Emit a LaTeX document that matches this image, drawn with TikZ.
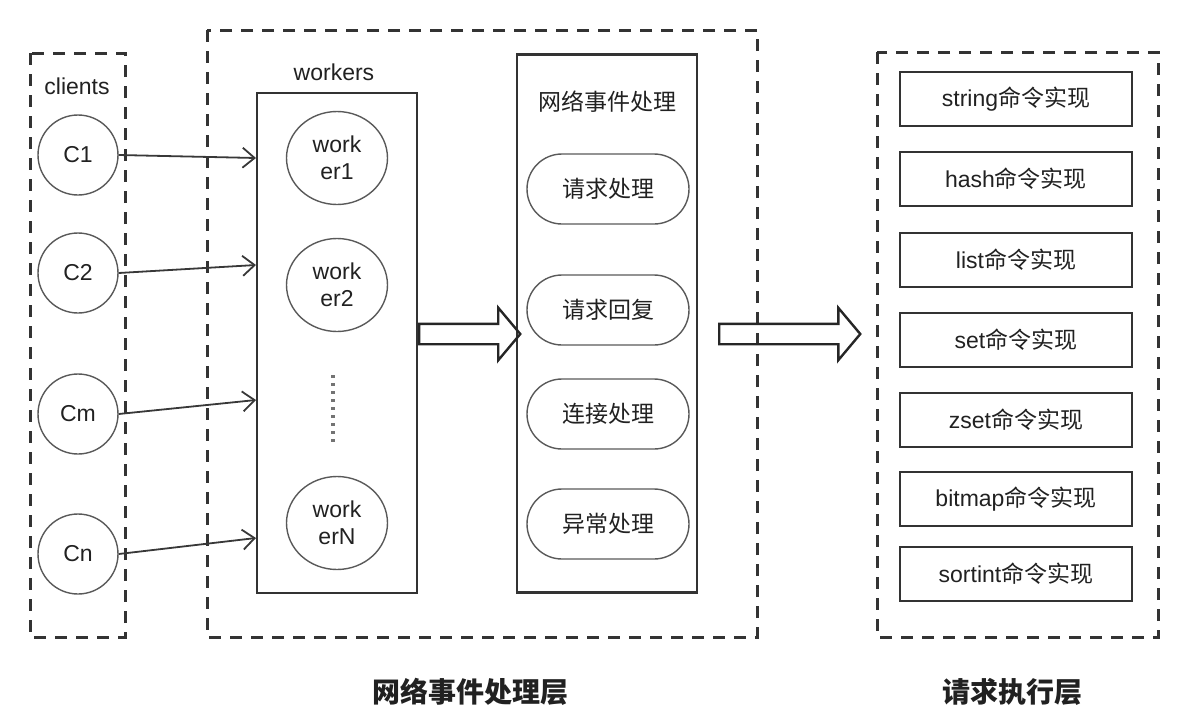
\documentclass[tikz,border=0pt]{standalone}
\usepackage{fontspec}
\setmainfont{Liberation Sans}
\newfontfamily\cjk{Noto Sans CJK SC}
\usetikzlibrary{shapes.geometric, shapes.arrows, arrows.meta}
\newcommand{\zh}[1]{{\cjk #1}}
\tikzset{
    group/.style={draw=black!80, line width=1.5pt, dash pattern=on 6pt off 4.5pt},
    panel/.style={draw=black!80, line width=1.4pt},
    client/.style={circle, draw=black!65, line width=0.7pt, minimum size=40pt,
        inner sep=0pt},
    worker/.style={ellipse, draw=black!65, line width=0.7pt, minimum width=50.5pt,
        minimum height=46.5pt, inner sep=0pt, align=center},
    handler/.style={rectangle, rounded corners=17.5pt, draw=black!65, line width=0.7pt,
        minimum width=81pt, minimum height=35pt, font=\cjk\fontsize{11.5}{13}\selectfont},
    cmd/.style={rectangle, draw=black!80, line width=1.3pt, minimum width=116pt,
        minimum height=27pt},
    link/.style={draw=black!78, line width=0.9pt, -{Straight Barb[length=6pt,width=10pt]}},
    fat/.style={single arrow, draw=black!85, line width=1.2pt, inner xsep=0pt,
        inner ysep=4.5pt, single arrow head extend=8pt, single arrow tip angle=100},
    title/.style={font=\cjk\bfseries\fontsize{14}{16}\selectfont},
}

\begin{document}
\begin{tikzpicture}[x=0.5pt, y=-0.5pt, text=black!87,
    font=\fontsize{11.5}{13.5}\selectfont]
    \useasboundingbox (0,0) rectangle (1190,718);

    % dashed layers
    \draw[group] (30,53) rectangle (125,637);
    \draw[group] (207,30) rectangle (757,637);
    \draw[group] (877,52) rectangle (1158,637);
    \node (clab) at (77,86) {clients};

    % clients
    \node[client] (c1) at (78,155) {C1};
    \node[client] (c2) at (78,273) {C2};
    \node[client] (cm) at (78,414) {Cm};
    \node[client] (cn) at (78,554) {Cn};

    % workers
    \node[panel, minimum width=80pt, minimum height=250pt] (wbox) at (337,343) {};
    \node (wlab) at (334,72) {workers};
    \node[worker] (w1) at (337,158) {work\\er1};
    \node[worker] (w2) at (337,285) {work\\er2};
    \node[worker] (wn) at (337,523) {work\\erN};
    \draw[black!55, line width=1.6pt, dash pattern=on 1.6pt off 2.4pt] (333,375) -- (333,445);

    \coordinate (in1) at (256,158);
    \coordinate (in2) at (256,265);
    \coordinate (inm) at (256,400);
    \coordinate (inn) at (256,538);
    \draw[link] (c1.east) -- (in1);
    \draw[link] (c2.east) -- (in2);
    \draw[link] (cm.east) -- (inm);
    \draw[link] (cn.east) -- (inn);

    % network events
    \node[panel, minimum width=90pt, minimum height=269pt] (ebox) at (607,323.5) {};
    \node[font=\cjk\fontsize{11.5}{13}\selectfont] (elab) at (607,102) {网络事件处理};
    \node[handler] (h1) at (608,189) {请求处理};
    \node[handler] (h2) at (608,310) {请求回复};
    \node[handler] (h3) at (608,414) {连接处理};
    \node[handler] (h4) at (608,524) {异常处理};

    \node[fat, minimum height=50.5pt] (a1) at (465.5,334) {};
    \node[fat, minimum height=70.5pt] (a2) at (785.5,334) {};

    % commands
    \node[cmd] (k1) at (1016,99) {string\zh{命令实现}};
    \node[cmd] (k2) at (1016,179) {hash\zh{命令实现}};
    \node[cmd] (k3) at (1016,260) {list\zh{命令实现}};
    \node[cmd] (k4) at (1016,340) {set\zh{命令实现}};
    \node[cmd] (k5) at (1016,420) {zset\zh{命令实现}};
    \node[cmd] (k6) at (1016,499) {bitmap\zh{命令实现}};
    \node[cmd] (k7) at (1016,574) {sortint\zh{命令实现}};

    \node[title] (t1) at (470,692) {网络事件处理层};
    \node[title] (t2) at (1012,692) {请求执行层};
\end{tikzpicture}
\end{document}
